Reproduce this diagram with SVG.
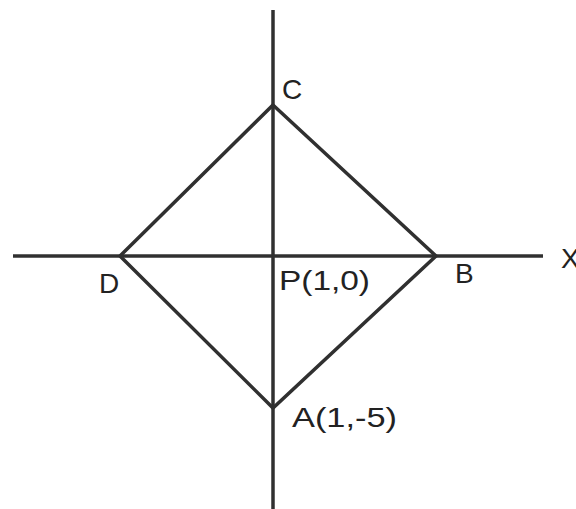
<svg xmlns="http://www.w3.org/2000/svg" width="576" height="509" viewBox="0 0 576 509">
<style>
.ln{stroke:#303030;stroke-width:3.5;fill:none;stroke-linecap:butt;stroke-linejoin:miter}
.lb{font-family:"Liberation Sans",Arial,sans-serif;font-size:28px;fill:#222}
</style>
<rect width="576" height="509" fill="#fff"/>
<g id="connectors">
<line class="ln" x1="13" y1="256" x2="543" y2="256"/>
<line class="ln" x1="273" y1="10" x2="273" y2="509"/>
<polygon class="ln" points="273,105 436,256 273,408 120,256"/>
</g>
<g id="C"><text class="lb" x="282" y="99">C</text></g>
<g id="D"><text class="lb" x="99" y="293">D</text></g>
<g id="P"><text class="lb" x="279" y="290" textLength="91" lengthAdjust="spacingAndGlyphs">P(1,0)</text></g>
<g id="B"><text class="lb" x="455" y="283">B</text></g>
<g id="X"><text class="lb" x="561" y="268">X</text></g>
<g id="A"><text class="lb" x="292" y="427" textLength="105" lengthAdjust="spacingAndGlyphs">A(1,-5)</text></g>
</svg>
